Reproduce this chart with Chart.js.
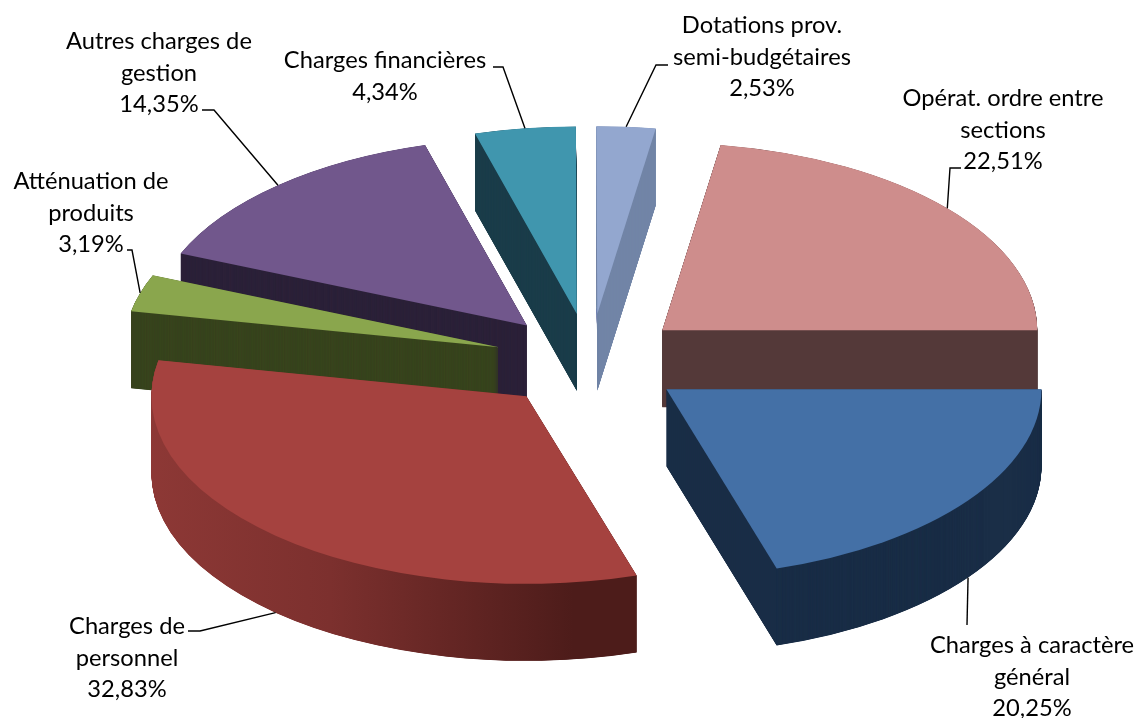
<!DOCTYPE html>
<html lang="fr">
<head>
<meta charset="utf-8">
<title>Répartition des charges</title>
<script src="https://cdn.jsdelivr.net/npm/chart.js@4/dist/chart.umd.min.js"></script>
<style>
    html, body { margin: 0; padding: 0; background: #fff; }
    canvas { display: block; }
</style>
</head>
<body>
<canvas id="pieChart" width="1136" height="718"></canvas>
<script>
const categories = [
    "Charges à caractère général",
    "Charges de personnel",
    "Atténuation de produits",
    "Autres charges de gestion",
    "Charges financières",
    "Dotations prov. semi-budgétaires",
    "Opérat. ordre entre sections"
];
const values = [20.25, 32.83, 3.19, 14.35, 4.34, 2.53, 22.51];

// how each category name wraps in its label
const labelLines = [
    ["Charges à caractère", "général"],
    ["Charges de", "personnel"],
    ["Atténuation de", "produits"],
    ["Autres charges de", "gestion"],
    ["Charges financières"],
    ["Dotations prov.", "semi-budgétaires"],
    ["Opérat. ordre entre", "sections"]
];

const topColors = ["#4470a6", "#a5423f", "#8aa64d", "#71578c", "#4096ae", "#93a7cf", "#ce8d8c"];
const wallColors = ["#1a2e47", null, "#38441e", "#2c2239", "#1b3d4a", "#7386a8", "#543b3b"];

// label placement: centre x, first baseline, elbow of the leader line
const labelPlaces = [
    { x: 1032, y: 653, leader: [[967, 625]] },
    { x: 127, y: 634, leader: [[200, 631], [188, 631]] },
    { x: 91, y: 189, leader: [[132, 250], [127, 250]] },
    { x: 159, y: 49, leader: [[214, 110], [202, 110]] },
    { x: 385, y: 68, leader: [[503, 67], [493, 67]] },
    { x: 762, y: 33, leader: [[656, 65], [668, 65]] },
    { x: 1003, y: 106, leader: [[950, 168], [961, 168]] }
];

const SQUASH = 0.5;
const DEPTH = 77;
const EXPLODE = 95;
const LINE_HEIGHT = 31.5;

// red side goes darker from left to right
function redWall(ctx) {
    const gradient = ctx.createLinearGradient(150, 0, 637, 0);
    gradient.addColorStop(0, "#933b38");
    gradient.addColorStop(0.5, "#7c302e");
    gradient.addColorStop(1, "#4d1c1a");
    return gradient;
}

function midAngle(arc) {
    return (arc.startAngle + arc.endAngle) / 2;
}

function drawFlat(ctx, arc, shift, color) {
    const saved = arc.options;
    const mid = midAngle(arc);
    arc.options = Object.assign({}, saved, { backgroundColor: color, borderWidth: 0 });
    ctx.save();
    ctx.translate(0, arc.y + shift);
    ctx.scale(1, SQUASH);
    ctx.translate(Math.cos(mid) * EXPLODE, Math.sin(mid) * EXPLODE - arc.y);
    arc.draw(ctx);
    ctx.restore();
    arc.options = saved;
}

// rim point of a slice at its middle angle, on the bottom edge for front slices
function rimPoint(arc) {
    const mid = midAngle(arc);
    const reach = arc.outerRadius + EXPLODE;
    const x = arc.x + Math.cos(mid) * reach;
    const y = arc.y + Math.sin(mid) * reach * SQUASH;
    return [x, Math.sin(mid) > 0 ? y + DEPTH : y];
}

const pie3d = {
    id: "pie3d",
    beforeDatasetDraw(chart, args) {
        const ctx = chart.ctx;
        const arcs = args.meta.data;
        // back slices first, front slices last
        const order = arcs.map((arc, i) => i).sort((a, b) => {
            return Math.sin(midAngle(arcs[a])) - Math.sin(midAngle(arcs[b]));
        });
        order.forEach((i) => {
            const arc = arcs[i];
            const wall = wallColors[i] || redWall(ctx);
            for (let shift = DEPTH; shift > 0; shift -= 0.25) {
                drawFlat(ctx, arc, shift, wall);
            }
            drawFlat(ctx, arc, 0, topColors[i]);
        });
        return false;
    },
    afterDraw(chart) {
        const ctx = chart.ctx;
        const arcs = chart.getDatasetMeta(0).data;
        ctx.save();
        ctx.strokeStyle = "#000";
        ctx.lineWidth = 1.4;
        ctx.fillStyle = "#000";
        ctx.font = '23.7px Lato';
        ctx.textAlign = "center";
        ctx.textBaseline = "alphabetic";
        arcs.forEach((arc, i) => {
            const place = labelPlaces[i];
            const rim = rimPoint(arc);
            ctx.beginPath();
            ctx.moveTo(rim[0], rim[1]);
            place.leader.forEach((p) => ctx.lineTo(p[0], p[1]));
            ctx.stroke();

            const lines = labelLines[i].concat(values[i].toFixed(2).replace(".", ",") + "%");
            lines.forEach((line, n) => {
                ctx.fillText(line, place.x, place.y + n * LINE_HEIGHT);
            });
        });
        ctx.restore();
    }
};

document.addEventListener("DOMContentLoaded", function () {
    new Chart(document.getElementById("pieChart").getContext("2d"), {
        type: "pie",
        plugins: [pie3d],
        data: {
            labels: categories,
            datasets: [{
                data: values,
                backgroundColor: topColors,
                borderWidth: 0,
                radius: 375,
                clip: false
            }]
        },
        options: {
            responsive: false,
            animation: false,
            rotation: 90,
            layout: { padding: { left: 44, top: 4 } },
            plugins: {
                legend: { display: false },
                tooltip: { enabled: false }
            }
        }
    });
});
</script>
</body>
</html>
